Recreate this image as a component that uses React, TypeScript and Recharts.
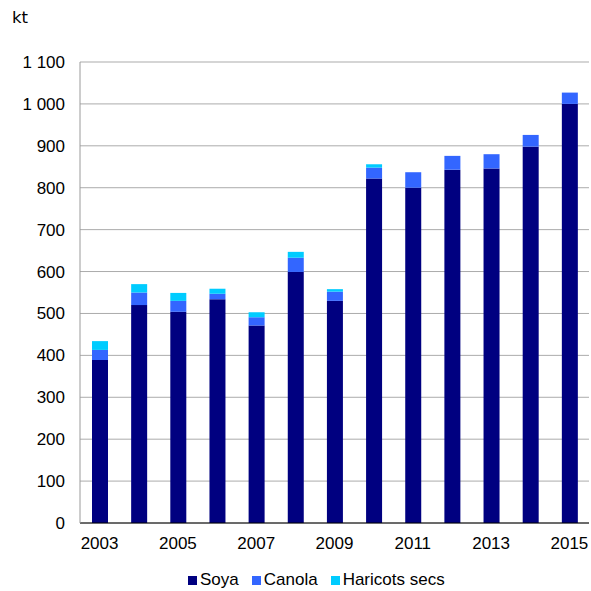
import { BarChart, Bar, XAxis, YAxis, CartesianGrid } from "recharts";

// Récoltes (kt) par année
const years = ["2003", "2004", "2005", "2006", "2007", "2008", "2009", "2010", "2011", "2012", "2013", "2014", "2015"];
const soya = [389, 520, 504, 534, 471, 599, 530, 822, 800, 843, 846, 898, 1000];
const canola = [24, 30, 26, 13, 20, 34, 22, 26, 37, 33, 34, 28, 27];
const haricots = [21, 20, 19, 12, 12, 14, 6, 8, 0, 0, 0, 0, 0];
const yTicks = [0, 100, 200, 300, 400, 500, 600, 700, 800, 900, 1000, 1100];

const SERIES = [
  { key: "soya", label: "Soya", color: "#000080" },
  { key: "canola", label: "Canola", color: "#3366FF" },
  { key: "haricots", label: "Haricots secs", color: "#00CCFF" },
];

const FONT = "'Liberation Sans', Arial, sans-serif";

const fmt = (v: number) => v.toString().replace(/\B(?=(\d{3})+(?!\d))/g, " ");

export default function App() {
  const data = years.map((year, i) => ({
    year,
    soya: soya[i],
    canola: canola[i],
    haricots: haricots[i],
  }));

  return (
    <div style={{ position: "absolute", left: 0, top: 0, width: 591, height: 591, fontFamily: FONT, background: "#fff" }}>
      <div style={{ position: "absolute", left: 12, top: 8, fontSize: 16.5, fontFamily: "'DejaVu Sans', Verdana, sans-serif", color: "#000" }}>
        kt
      </div>
      <BarChart
        width={591}
        height={591}
        data={data}
        margin={{ top: 62, right: 2, left: 0, bottom: 0 }}
        barSize={16}
      >
        <CartesianGrid vertical={false} stroke="#ababab" />
        <XAxis
          dataKey="year"
          height={68}
          interval={1}
          tickLine={false}
          tickSize={0}
          tickMargin={14}
          axisLine={{ stroke: "#000" }}
          tick={{ fill: "#000", fontSize: 17, fontFamily: FONT }}
        />
        <YAxis
          width={80}
          domain={[0, 1100]}
          ticks={yTicks}
          tickFormatter={fmt}
          tickLine={false}
          tickSize={0}
          tickMargin={15}
          axisLine={{ stroke: "#9a9a9a" }}
          tick={{ fill: "#000", fontSize: 17, fontFamily: FONT }}
        />
        <YAxis
          yAxisId="right"
          orientation="right"
          width={0}
          domain={[0, 1100]}
          tick={false}
          tickLine={false}
          axisLine={{ stroke: "#9a9a9a" }}
        />
        {SERIES.map((s) => (
          <Bar key={s.key} dataKey={s.key} stackId="a" fill={s.color} isAnimationActive={false} />
        ))}
      </BarChart>
      <div
        style={{
          position: "absolute",
          left: 188,
          top: 570,
          display: "flex",
          fontSize: 17,
          color: "#000",
        }}
      >
        {SERIES.map((s) => (
          <div key={s.key} style={{ display: "flex", alignItems: "center", marginRight: 13 }}>
            <span style={{ width: 9, height: 9, background: s.color, marginRight: 3, display: "inline-block" }} />
            <span>{s.label}</span>
          </div>
        ))}
      </div>
    </div>
  );
}
